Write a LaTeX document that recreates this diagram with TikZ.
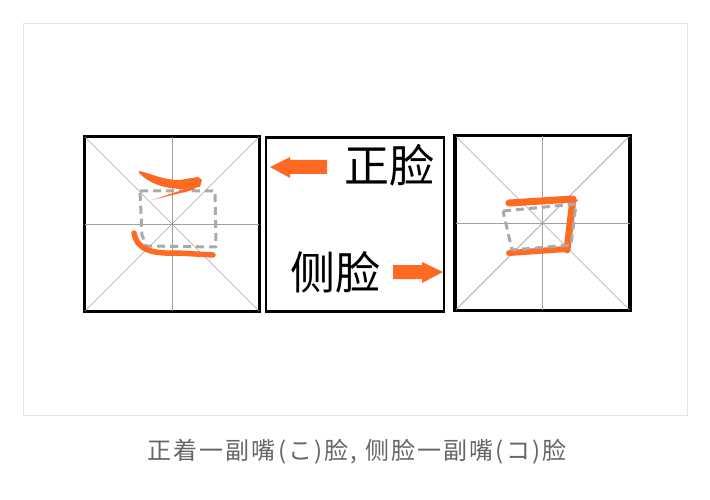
\documentclass[tikz,border=0pt]{standalone}
\usepackage{fontspec}
\newfontfamily\cjk{Noto Sans CJK SC}
\newfontfamily\cjkcap[LetterSpace=9]{Noto Sans CJK SC}
\definecolor{strokeor}{HTML}{FF6A22}
\definecolor{guidegray}{HTML}{A0A0A0}
\definecolor{dashgray}{HTML}{AAAAAA}
\definecolor{framegray}{HTML}{E4E4E4}
\definecolor{captiongray}{HTML}{666666}
\tikzset{
  gridbox/.style={draw=black, line width=2.2pt, minimum width=174pt, minimum height=174pt, inner sep=0pt},
  guide/.style={draw=guidegray, line width=0.7pt},
  dashq/.style={draw=dashgray, line width=3pt, dash pattern=on 8pt off 5pt, line join=round},
  ostroke/.style={draw=strokeor, line width=6pt, line cap=round, line join=round},
  bigtext/.style={font=\cjk\fontsize{45}{45}\selectfont, inner sep=0pt},
}
\begin{document}
\begin{tikzpicture}[x=1pt,y=-1pt]
\useasboundingbox (0,0) rectangle (710,500);
\fill[white] (0,0) rectangle (710,500);
\draw[framegray, line width=0.8pt] (23,23) rectangle (687,415);

% boxes
\node[gridbox] (L) at (172,224) {};
\node[gridbox, minimum width=178pt] (M) at (355,224.5) {};
\node[gridbox] (R) at (542.5,223) {};

% guides left
\draw[guide] (L.north west) -- (L.south east);
\draw[guide] (L.north east) -- (L.south west);
\draw[guide] (L.north) -- (L.south);
\draw[guide] (L.west) -- (L.east);
% guides right
\draw[guide] (R.north west) -- (R.south east);
\draw[guide] (R.north east) -- (R.south west);
\draw[guide] (R.north) -- (R.south);
\draw[guide] (R.west) -- (R.east);
\draw[black, line width=2.2pt] (L.north west) rectangle (L.south east);
\draw[black, line width=2.2pt] (R.north west) rectangle (R.south east);

% left character strokes
\draw[dashq] (140,191) -- (215,191) -- (216,247) -- (146,246) -- (142,235) -- cycle;
\fill[strokeor] (139,171) .. controls (150,173) and (162,180) .. (180,180) -- (198,177) -- (202,180) -- (200,187) -- (184,189) .. controls (163,189) and (149,183) .. (139,173) -- cycle;
\fill[strokeor] (200,184) -- (152,200) -- (193,190) -- cycle;
\draw[ostroke, line width=5.5pt] (134,233) .. controls (137,250) and (152,254) .. (178,253) -- (213,255);

% right character strokes
\draw[ostroke, line width=7pt] (509,203) -- (573,199) -- (567,250);
\draw[ostroke] (509,253) -- (566,249);
\fill[strokeor] (568,196) -- (578,200) -- (572,206) -- cycle;
\draw[dashq] (503,211) -- (576,204) -- (571,245) -- (512,250) -- cycle;

% middle texts and arrows
\node[bigtext] (zl) at (389,165) {正脸};
\node[bigtext] (cl) at (335,272) {侧脸};
\fill[strokeor] (327,160) -- (290,160) -- (290,157) -- (270,167) -- (290,178) -- (290,174) -- (327,174) -- cycle;
\fill[strokeor] (393,265) -- (422,265) -- (422,262) -- (443,272) -- (422,283) -- (422,279) -- (393,279) -- cycle;

% caption
\node[font=\cjkcap\fontsize{24}{24}\selectfont, text=captiongray, inner sep=0pt] (cap) at (357,452) {正着一副嘴(こ)脸, 侧脸一副嘴(コ)脸};
\end{tikzpicture}
\end{document}
